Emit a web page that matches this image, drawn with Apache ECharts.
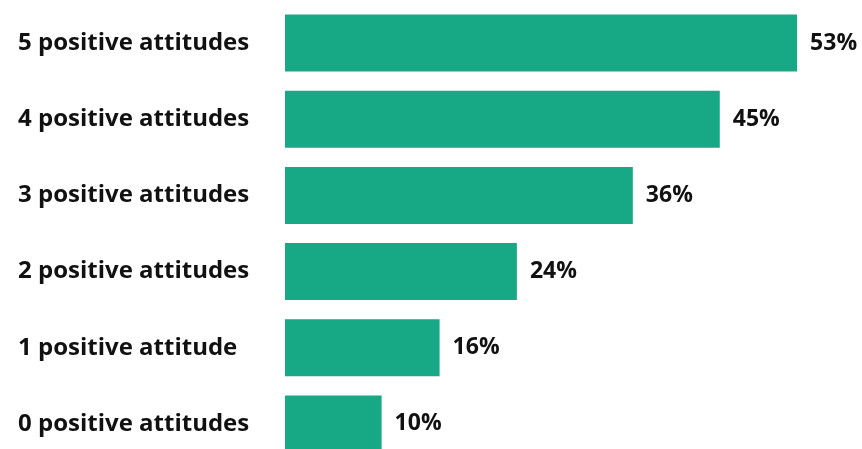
<!DOCTYPE html>
<html><head><meta charset="utf-8">
<script src="https://cdn.jsdelivr.net/npm/echarts@6/dist/echarts.min.js"></script>
<style>html,body{margin:0;padding:0;background:#fff}#c{width:862px;height:449px}</style>
</head><body><div id="c"></div>
<script>
const categories = ["5 positive attitudes","4 positive attitudes","3 positive attitudes","2 positive attitudes","1 positive attitude","0 positive attitudes"];
const values = [53,45,36,24,16,10];

const chart = echarts.init(document.getElementById('c'));
chart.setOption({
  animation:false,
  grid:{left:285, top:5, width:528.5, height:457, containLabel:false, outerBoundsMode:'none'},
  xAxis:{type:'value', min:0, max:54.7, show:false},
  yAxis:{type:'category', data:categories, inverse:true,
    axisLine:{show:false}, axisTick:{show:false},
    axisLabel:{align:'left', margin:267, fontFamily:'Open Sans', fontWeight:700, fontSize:24, color:'#111'}},
  series:[{type:'bar', data:values, barWidth:57,
    itemStyle:{color:'#17a985'},
    label:{show:true, position:'right', distance:13, formatter:'{c}%', fontFamily:'Open Sans', fontWeight:700, fontSize:23, color:'#111'}}]
});
</script></body></html>
